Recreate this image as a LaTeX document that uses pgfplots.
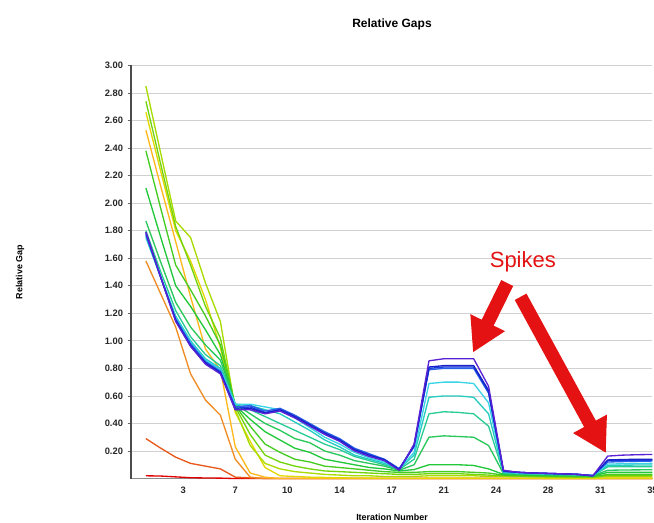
\documentclass[border=0pt]{standalone}
\usepackage{pgfplots}
\pgfplotsset{compat=1.18}
\usepackage{pgfplotstable}
\usepackage{fontspec}
\setmainfont{Liberation Sans}
\usetikzlibrary{arrows.meta}

\definecolor{c1}{HTML}{E00000}
\definecolor{c2}{HTML}{E8581A}
\definecolor{c3}{HTML}{EF8C24}
\definecolor{c4}{HTML}{FFB81C}
\definecolor{c5}{HTML}{E2D800}
\definecolor{c6}{HTML}{A8DC00}
\definecolor{c7}{HTML}{72D40C}
\definecolor{c8}{HTML}{44CC22}
\definecolor{c9}{HTML}{22C83A}
\definecolor{c10}{HTML}{2AC85A}
\definecolor{c11}{HTML}{2ACC96}
\definecolor{c12}{HTML}{26CCC0}
\definecolor{c13}{HTML}{3AD4E6}
\definecolor{c14}{HTML}{2A60E8}
\definecolor{c15}{HTML}{1A3EE0}
\definecolor{c16}{HTML}{1422C8}
\definecolor{c17}{HTML}{5A22D4}
\definecolor{arrowred}{HTML}{E41212}

\pgfplotstableread{
i s1 s2 s3 s4 s5 s6 s7 s8 s9 s10 s11 s12 s13 s14 s15 s16 s17
1 0.02 0.29 1.58 2.53 2.66 2.85 2.74 2.38 2.11 1.87 1.80 1.75 1.76 1.77 1.78 1.79 1.79
2 0.018 0.22 1.34 2.12 2.23 2.36 2.28 1.96 1.75 1.57 1.50 1.46 1.47 1.46 1.46 1.46 1.46
3 0.012 0.155 1.10 1.72 1.80 1.87 1.83 1.55 1.40 1.28 1.22 1.18 1.17 1.16 1.15 1.15 1.14
4 0.006 0.11 0.76 1.32 1.58 1.75 1.55 1.37 1.25 1.10 1.03 1.00 0.99 0.98 0.97 0.96 0.96
5 0.004 0.09 0.57 0.94 1.30 1.42 1.25 1.18 1.08 0.97 0.90 0.87 0.86 0.85 0.84 0.84 0.83
6 0.003 0.07 0.46 0.79 0.95 1.14 1.02 0.97 0.90 0.86 0.82 0.80 0.79 0.78 0.77 0.77 0.76
7 0 0.01 0.14 0.23 0.48 0.50 0.52 0.53 0.53 0.54 0.54 0.54 0.54 0.52 0.51 0.50 0.50
8 0 0.005 0.01 0.04 0.27 0.24 0.32 0.38 0.43 0.47 0.50 0.53 0.54 0.53 0.52 0.51 0.50
9 0 0 0 0.01 0.08 0.11 0.17 0.25 0.34 0.40 0.45 0.50 0.52 0.49 0.48 0.475 0.47
10 0 0 0 0 0.02 0.07 0.12 0.19 0.28 0.35 0.40 0.47 0.50 0.51 0.50 0.50 0.49
11 0 0 0 0 0.015 0.05 0.09 0.14 0.22 0.29 0.35 0.41 0.44 0.46 0.45 0.45 0.44
12 0 0 0 0 0.01 0.04 0.07 0.12 0.19 0.26 0.30 0.35 0.37 0.40 0.39 0.39 0.38
13 0 0 0 0 0.008 0.03 0.055 0.09 0.14 0.20 0.25 0.28 0.30 0.34 0.33 0.33 0.32
14 0 0 0 0 0.005 0.025 0.05 0.08 0.12 0.17 0.21 0.23 0.25 0.29 0.28 0.28 0.27
15 0 0 0 0 0.004 0.02 0.045 0.07 0.10 0.13 0.16 0.17 0.19 0.22 0.21 0.21 0.20
16 0 0 0 0 0.003 0.02 0.04 0.06 0.08 0.11 0.13 0.14 0.15 0.18 0.17 0.17 0.16
17 0 0 0 0 0.002 0.015 0.035 0.05 0.07 0.09 0.10 0.11 0.12 0.14 0.14 0.135 0.13
18 0 0 0 0 0.002 0.015 0.03 0.045 0.055 0.06 0.065 0.07 0.07 0.07 0.07 0.065 0.06
19 0 0 0 0 0.002 0.015 0.03 0.045 0.065 0.10 0.14 0.17 0.19 0.23 0.24 0.24 0.25
20 0 0 0 0 0.003 0.02 0.035 0.05 0.10 0.30 0.47 0.59 0.69 0.79 0.80 0.81 0.855
21 0 0 0 0 0.003 0.02 0.035 0.05 0.10 0.31 0.485 0.60 0.70 0.80 0.81 0.82 0.87
22 0 0 0 0 0.003 0.02 0.035 0.05 0.10 0.305 0.48 0.60 0.70 0.80 0.81 0.82 0.87
23 0 0 0 0 0.003 0.02 0.03 0.045 0.095 0.30 0.47 0.59 0.69 0.80 0.81 0.82 0.87
24 0 0 0 0 0.002 0.015 0.025 0.04 0.07 0.24 0.38 0.47 0.55 0.62 0.63 0.64 0.67
25 0 0 0 0 0.002 0.015 0.02 0.025 0.03 0.035 0.04 0.045 0.05 0.05 0.055 0.055 0.06
26 0 0 0 0 0.002 0.013 0.018 0.022 0.028 0.032 0.035 0.038 0.04 0.045 0.045 0.045 0.045
27 0 0 0 0 0.002 0.012 0.016 0.02 0.026 0.03 0.032 0.035 0.037 0.04 0.04 0.04 0.04
28 0 0 0 0 0.001 0.01 0.015 0.018 0.024 0.027 0.03 0.033 0.035 0.037 0.037 0.037 0.037
29 0 0 0 0 0.001 0.01 0.013 0.016 0.022 0.025 0.028 0.03 0.032 0.034 0.034 0.034 0.034
30 0 0 0 0 0.001 0.009 0.012 0.015 0.02 0.022 0.025 0.028 0.03 0.03 0.03 0.03 0.03
31 0 0 0 0 0.001 0.008 0.011 0.014 0.018 0.02 0.022 0.022 0.022 0.022 0.02 0.02 0.02
32 0 0 0 0 0.003 0.015 0.022 0.03 0.045 0.06 0.085 0.095 0.105 0.12 0.13 0.135 0.163
33 0 0 0 0 0.003 0.015 0.022 0.03 0.046 0.062 0.086 0.097 0.107 0.123 0.132 0.138 0.17
34 0 0 0 0 0.003 0.015 0.022 0.03 0.046 0.063 0.086 0.098 0.109 0.125 0.133 0.14 0.173
35 0 0 0 0 0.003 0.015 0.022 0.03 0.046 0.064 0.086 0.098 0.11 0.127 0.134 0.14 0.175
}\gaps

\begin{document}
\begin{tikzpicture}
\begin{axis}[
  at={(98.25pt,32.6pt)}, anchor=south west,
  scale only axis, width=391.1pt, height=309.8pt,
  xmin=0, xmax=35, ymin=0, ymax=3,
  axis x line*=bottom, axis y line*=left,
  xtick={3.5,7,10.5,14,17.5,21,24.5,28,31.5,35},
  xticklabels={3,7,10,14,17,21,24,28,31,35},
  ytick={0.2,0.4,0.6,0.8,1.0,1.2,1.4,1.6,1.8,2.0,2.2,2.4,2.6,2.8,3.0},
  yticklabels={0.20,0.40,0.60,0.80,1.00,1.20,1.40,1.60,1.80,2.00,2.20,2.40,2.60,2.80,3.00},
  ymajorgrids, grid style={draw=black!18, line width=0.6pt},
  tick align=outside, major tick length=2.5pt,
  ytick style={draw=black!60, line width=0.6pt},
  xtick style={draw=none},
  x axis line style={draw=black!45, line width=1.3pt},
  y axis line style={draw=black!70, line width=0.8pt},
  ticklabel style={font=\fontsize{7}{8}\selectfont\bfseries, text=black!85},
  clip=false,
  every axis plot/.append style={line width=1pt, mark=none, line join=round},
]
\addplot[color=c1] table[x=i,y=s1]{\gaps};
\addplot[color=c2] table[x=i,y=s2]{\gaps};
\addplot[color=c3] table[x=i,y=s3]{\gaps};
\addplot[color=c4] table[x=i,y=s4]{\gaps};
\addplot[color=c5] table[x=i,y=s5]{\gaps};
\addplot[color=c6] table[x=i,y=s6]{\gaps};
\addplot[color=c7] table[x=i,y=s7]{\gaps};
\addplot[color=c8] table[x=i,y=s8]{\gaps};
\addplot[color=c9] table[x=i,y=s9]{\gaps};
\addplot[color=c10] table[x=i,y=s10]{\gaps};
\addplot[color=c11] table[x=i,y=s11]{\gaps};
\addplot[color=c12] table[x=i,y=s12]{\gaps};
\addplot[color=c13] table[x=i,y=s13]{\gaps};
\addplot[color=c14] table[x=i,y=s14]{\gaps};
\addplot[color=c15] table[x=i,y=s15]{\gaps};
\addplot[color=c16] table[x=i,y=s16]{\gaps};
\addplot[color=c17] table[x=i,y=s17]{\gaps};

\node[text=arrowred, font=\fontsize{16.5}{18}\selectfont] at (axis cs:26.3,1.572) {Spikes};
\draw[arrowred, line width=10pt, -{Triangle[length=25pt,width=27pt]}] (axis cs:25.25,1.42) -- (axis cs:22.95,0.915);
\draw[arrowred, line width=10pt, -{Triangle[length=25pt,width=27pt]}] (axis cs:26.15,1.32) -- (axis cs:31.88,0.185);
\end{axis}
\node[font=\fontsize{9}{11}\selectfont\bfseries] at (294pt,373.5pt) {Relative Gaps};
\node[rotate=90, font=\fontsize{6.7}{8}\selectfont\bfseries] at (15pt,187.5pt) {Relative Gap};
\node[anchor=base, font=\fontsize{6.7}{8}\selectfont\bfseries, inner sep=0pt] at (294pt,1pt) {Iteration Number};
\pgfresetboundingbox
\useasboundingbox (0,0) rectangle (490.5pt,391.5pt);
\end{tikzpicture}
\end{document}
